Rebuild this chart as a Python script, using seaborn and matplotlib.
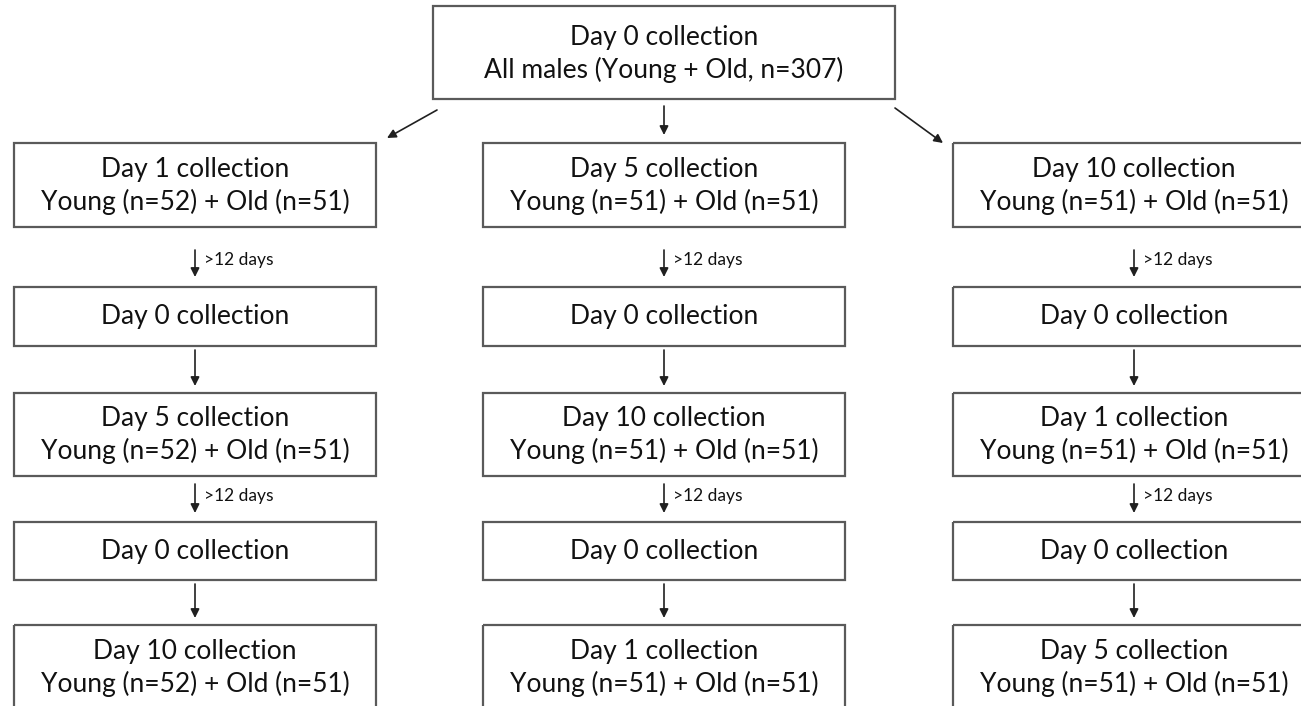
import seaborn as sns
import matplotlib.pyplot as plt
from matplotlib.patches import Rectangle

# flowchart content
top_lines = ['Day 0 collection', 'All males (Young + Old, n=307)']
arm_days = [[1, 5, 10], [5, 10, 1], [10, 1, 5]]   # order of collections per arm
young_n = [52, 51, 51]
old_n = [51, 51, 51]
rest_label = '>12 days'
baseline_label = 'Day 0 collection'

# layout (pixels, figure is 1301 x 706)
W, H = 1301, 706
col_left = [14, 483, 953]
col_w = 362
top_box = (433, 6, 462, 93)   # x, y, w, h
rows = [(143, 84), (287, 59), (393, 83), (522, 58), (625, 84)]  # y, h
arrow_gaps = [(250, 277), (350, 386), (484, 513), (584, 618)]
edge = '#5a5a5a'
ink = '#111111'

sns.set_theme(style='white')
plt.rcParams['font.family'] = ['Lato', 'DejaVu Sans']

fig = plt.figure(figsize=(W / 100, H / 100), dpi=100)
ax = fig.add_axes([0, 0, 1, 1])
ax.set_xlim(0, W)
ax.set_ylim(H, 0)
ax.axis('off')

big = 19
small = 12.5


def box(x, y, w, h, lines):
    ax.add_patch(Rectangle((x, y), w, h, fill=False, edgecolor=edge, lw=1.6))
    if len(lines) == 1:
        ax.text(x + w / 2, y + h / 2, lines[0], ha='center', va='center', fontsize=big, color=ink)
    else:
        ax.text(x + w / 2, y + h * 0.31, lines[0], ha='center', va='center', fontsize=big, color=ink)
        ax.text(x + w / 2, y + h * 0.70, lines[1], ha='center', va='center', fontsize=big, color=ink)


def arrow(x0, y0, x1, y1):
    ax.annotate('', xy=(x1, y1), xytext=(x0, y0),
                arrowprops=dict(arrowstyle='-|>', color='#202020', lw=1.2,
                                mutation_scale=13, shrinkA=0, shrinkB=0))


# top box
tx, ty, tw, th = top_box
ax.add_patch(Rectangle((tx, ty), tw, th, fill=False, edgecolor=edge, lw=1.6))
ax.text(tx + tw / 2, ty + th * 0.34, top_lines[0], ha='center', va='center', fontsize=big, color=ink)
ax.text(tx + tw / 2, ty + th * 0.69, top_lines[1], ha='center', va='center', fontsize=big, color=ink)
arrow(437, 110, 387, 138)
arrow(tx + tw / 2, 106, tx + tw / 2, 135)
arrow(895, 108, 943, 143)

for c, (days, yn, on) in enumerate(zip(arm_days, young_n, old_n)):
    x = col_left[c]
    cx = x + col_w / 2
    seq = []
    for i, d in enumerate(days):
        seq.append([f'Day {d} collection', f'Young (n={yn}) + Old (n={on})'])
        if i < len(days) - 1:
            seq.append([baseline_label])
    for r, lines in enumerate(seq):
        y, h = rows[r]
        box(x, y, col_w, h, lines)
    for r, (a0, a1) in enumerate(arrow_gaps):
        arrow(cx, a0, cx, a1)
        if r % 2 == 0:
            ax.text(cx + 9, (a0 + a1) / 2 - 3, rest_label, ha='left', va='center',
                    fontsize=small, color=ink)

fig.savefig('out.png', dpi=100)
